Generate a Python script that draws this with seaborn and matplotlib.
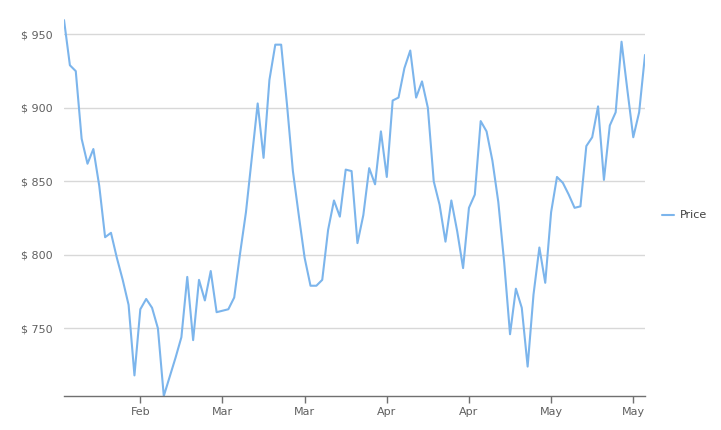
import matplotlib
matplotlib.use("Agg")
import matplotlib.pyplot as plt
import matplotlib.dates as mdates
import matplotlib.ticker as mticker
import seaborn as sns
import pandas as pd

# daily price series
start_date = "2023-02-09"
prices = [
    959.7, 929, 925, 879, 862, 872, 847, 812, 815, 798,
    783, 766, 718, 763, 770, 764, 750, 704, 717, 730,
    744, 785, 742, 783, 769, 789, 761, 762, 763, 771,
    801, 829, 866, 903, 866, 919, 943, 943, 902, 857,
    827, 798, 779, 779, 783, 817, 837, 826, 858, 857,
    808, 827, 859, 848, 884, 853, 905, 907, 927, 939,
    907, 918, 900, 850, 834, 809, 837, 816, 791, 832,
    841, 891, 884, 864, 836, 795, 746, 777, 764, 724,
    773, 805, 781, 829, 853, 849, 841, 832, 833, 874,
    880, 901, 851, 888, 897, 945, 912, 880, 897, 936,
]
series_name = "Price"
tick_every = 14
first_tick = 13

df = pd.DataFrame({
    "date": pd.date_range(start_date, periods=len(prices), freq="D"),
    "price": prices,
})
df["series"] = series_name

sns.set_theme(style="white")
plt.rcParams["font.family"] = ["DejaVu Sans"]

fig = plt.figure(figsize=(7.21, 4.30), dpi=100)
ax = fig.add_axes([0.0888, 0.0791, 0.8058, 0.882])

sns.lineplot(data=df, x="date", y="price", hue="series",
             palette=["#7cb5ec"], linewidth=1.5, ax=ax)

ax.set_xlim(df["date"].iloc[0], df["date"].iloc[-1])
ax.set_ylim(704, 962)
ax.set_yticks([750, 800, 850, 900, 950])
ax.yaxis.set_major_formatter(mticker.FuncFormatter(lambda v, p: f"$ {v:.0f}"))
ax.set_xticks(df["date"].iloc[first_tick::tick_every])
ax.xaxis.set_major_formatter(mdates.DateFormatter("%b"))

ax.grid(axis="y", color="#d8d8d8", linewidth=1)
ax.grid(axis="x", visible=False)
for side in ["left", "top", "right"]:
    ax.spines[side].set_visible(False)
ax.spines["bottom"].set_color("#707070")
ax.spines["bottom"].set_linewidth(1)

ax.tick_params(axis="y", length=0, pad=8, labelsize=8, labelcolor="#606060")
ax.tick_params(axis="x", length=5, width=1, color="#707070", pad=3,
               labelsize=8, labelcolor="#606060", bottom=True)
ax.set_xlabel("")
ax.set_ylabel("")

leg = ax.legend(loc="center left", bbox_to_anchor=(1.012, 0.476), frameon=False,
                handlelength=1.1, handletextpad=0.5, fontsize=8)
for t in leg.get_texts():
    t.set_color("#404040")

fig.savefig("out.png", dpi=100)
